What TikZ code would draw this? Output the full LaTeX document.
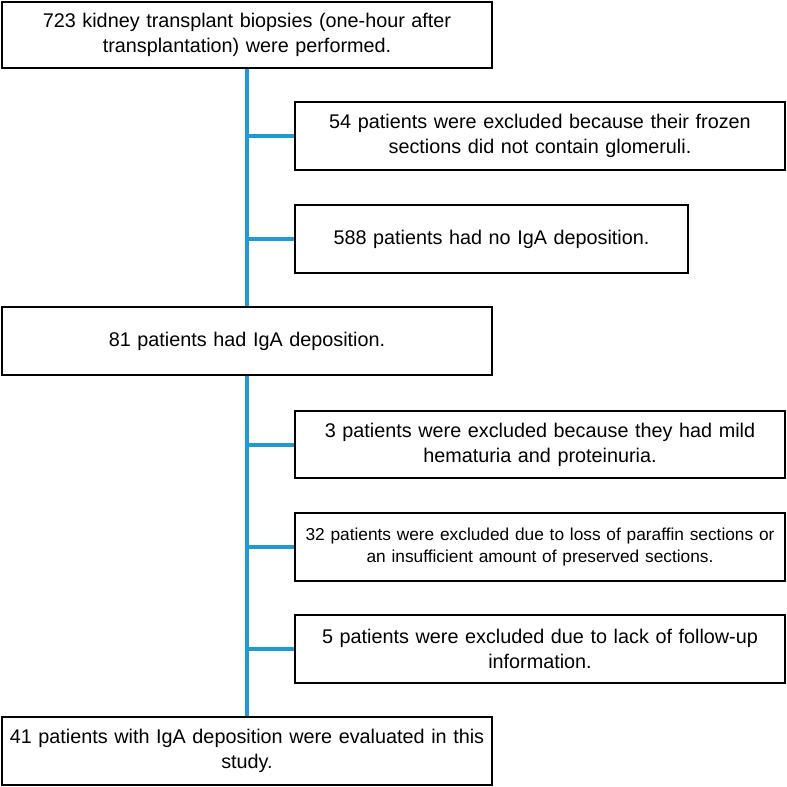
\documentclass[tikz,border=0pt]{standalone}
\usepackage{fontspec}
\setmainfont{Liberation Sans}
\definecolor{flowblue}{RGB}{30,155,215}
\begin{document}
\begin{tikzpicture}[x=1pt,y=-1pt,
  box/.style={draw=black, line width=1.6pt, fill=white, inner sep=0pt, align=center,
    font=\fontsize{19.8}{25}\selectfont},
  wide/.style={box, minimum width=490pt, minimum height=68pt, text width=480pt},
  small/.style={font=\fontsize{17.3}{22}\selectfont},
  link/.style={draw=flowblue, line width=4pt}]
\useasboundingbox (0,0) rectangle (787,787);
\node[wide, minimum height=66pt] (b1) at (247,35) {723 kidney transplant biopsies (one-hour after\\transplantation) were performed.};
\node[wide] (b2) at (540,136) {54 patients were excluded because their frozen\\sections did not contain glomeruli.};
\node[box, minimum width=393pt, minimum height=68pt, text width=383pt] (b3) at (491.5,239) {588 patients had no IgA deposition.};
\node[wide] (b4) at (247,341) {81 patients had IgA deposition.};
\node[wide, minimum height=67pt] (b5) at (540,444.5) {3 patients were excluded because they had mild\\hematuria and proteinuria.};
\node[wide, small] (b6) at (540,547) {32 patients were excluded due to loss of paraffin sections or\\an insufficient amount of preserved sections.};
\node[wide] (b7) at (540,649) {5 patients were excluded due to lack of follow-up\\information.};
\node[wide] (b8) at (247,751) {41 patients with IgA deposition were evaluated in this\\study.};
\begin{scope}[on background layer/.try]
\end{scope}
\draw[link] (b1.south) -- (b4.north);
\draw[link] (b4.south) -- (b8.north);
\draw[link] (b1.south |- b2.west) -- (b2.west);
\draw[link] (b1.south |- b3.west) -- (b3.west);
\draw[link] (b4.south |- b5.west) -- (b5.west);
\draw[link] (b4.south |- b6.west) -- (b6.west);
\draw[link] (b4.south |- b7.west) -- (b7.west);
\end{tikzpicture}
\end{document}
